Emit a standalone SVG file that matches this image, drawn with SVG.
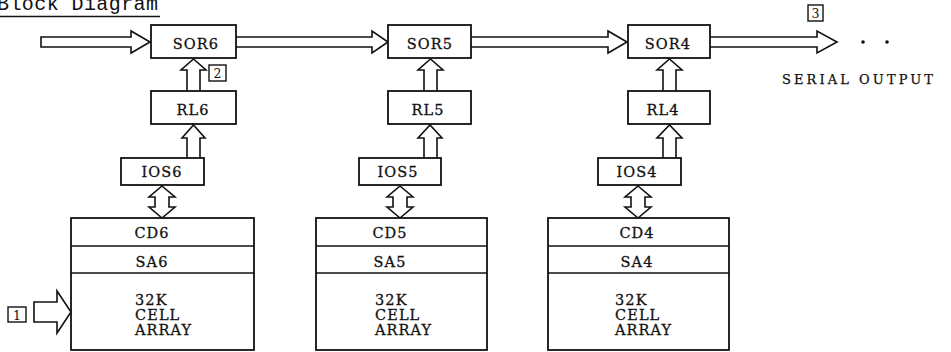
<svg xmlns="http://www.w3.org/2000/svg" width="951" height="352" viewBox="0 0 951 352">
<style>
.b{fill:#fff;stroke:#111;stroke-width:1.8}
.a{fill:#fff;stroke:#111;stroke-width:1.6;stroke-linejoin:miter}
.l{stroke:#111;stroke-width:1.6}
.t{font-family:"DejaVu Serif","Liberation Serif",serif;font-size:14.5px;fill:#111;stroke:#111;stroke-width:0.3;letter-spacing:1.1px}
.c{text-anchor:middle}
.k{font-family:"DejaVu Serif","Liberation Serif",serif;font-size:12.5px;fill:#111;text-anchor:middle}
.kb{fill:#fff;stroke:#111;stroke-width:1.4}
</style>
<rect width="951" height="352" fill="#fff"/>
<g id="title">
<text x="-3" y="10" font-family="'Liberation Mono',monospace" font-size="20" fill="#111" textLength="161" lengthAdjust="spacing">Block Diagram</text>
<line x1="0" y1="16.5" x2="160" y2="16.5" stroke="#111" stroke-width="1.5"/>
</g>
<g id="connectors">
<path class="a" d="M41,37 H131 V31 L150,42 L131,53 V47 H41 Z"/>
<path class="a" d="M236,37 H372 V31 L388,42 L372,53 V47 H236"/>
<path class="a" d="M471,37 H608 V31 L627,42 L608,53 V47 H471"/>
<path class="a" d="M710,37 H817 V31 L837,42 L817,53 V47 H710"/>
<path class="a" d="M187,91 V70 H181 L193.5,59 L206,70 H200 V91"/>
<path class="a" d="M424,91 V70 H418 L430.5,59 L443,70 H437 V91"/>
<path class="a" d="M663,91 V70 H657 L669.5,59 L682,70 H676 V91"/>
<path class="a" d="M187,158 V138 H182 L193.5,125 L205,138 H200 V158"/>
<path class="a" d="M424,158 V138 H418 L430,125 L442,138 H437 V158"/>
<path class="a" d="M663,158 V138 H657 L669.5,125 L682,138 H676 V158"/>
<path class="a" d="M162,186 L175,197 H169 V207 H175 L162,218 L149,207 H155 V197 H149 Z"/>
<path class="a" d="M400,186 L413,197 H407 V207 H413 L400,218 L387,207 H393 V197 H387 Z"/>
<path class="a" d="M638,186 L651,197 H645 V207 H651 L638,218 L625,207 H631 V197 H625 Z"/>
<path class="a" d="M34,302 H57 V291 L71,312 L57,333 V322 H34 Z"/>
<circle cx="863" cy="42" r="1.8" fill="#111"/>
<circle cx="887" cy="42" r="1.8" fill="#111"/>
</g>
<g id="SOR6"><rect class="b" x="151" y="25" width="85" height="33"/><text class="t c" x="196" y="49">SOR6</text></g>
<g id="SOR5"><rect class="b" x="388" y="25" width="83" height="33"/><text class="t c" x="430" y="49">SOR5</text></g>
<g id="SOR4"><rect class="b" x="628" y="25" width="82" height="33"/><text class="t c" x="668" y="49">SOR4</text></g>
<g id="RL6"><rect class="b" x="151" y="91" width="85" height="33"/><text class="t c" x="193" y="115">RL6</text></g>
<g id="RL5"><rect class="b" x="388" y="91" width="83" height="33"/><text class="t c" x="428" y="115">RL5</text></g>
<g id="RL4"><rect class="b" x="628" y="91" width="82" height="33"/><text class="t c" x="663" y="115">RL4</text></g>
<g id="IOS6"><rect class="b" x="121" y="158" width="83" height="27"/><text class="t c" x="162" y="177">IOS6</text></g>
<g id="IOS5"><rect class="b" x="359" y="158" width="82" height="27"/><text class="t c" x="398" y="177">IOS5</text></g>
<g id="IOS4"><rect class="b" x="598" y="158" width="83" height="27"/><text class="t c" x="637" y="177">IOS4</text></g>
<g id="array6">
<rect class="b" x="71" y="218" width="183" height="132"/>
<line class="l" x1="71" y1="246" x2="254" y2="246"/><line class="l" x1="71" y1="273" x2="254" y2="273"/>
<text class="t c" x="152" y="238">CD6</text><text class="t c" x="152" y="267">SA6</text>
<text class="t" x="135" y="305">32K</text><text class="t" x="135" y="320">CELL</text><text class="t" x="135" y="335">ARRAY</text>
</g>
<g id="array5">
<rect class="b" x="316" y="218" width="171" height="132"/>
<line class="l" x1="316" y1="246" x2="487" y2="246"/><line class="l" x1="316" y1="273" x2="487" y2="273"/>
<text class="t c" x="390" y="238">CD5</text><text class="t c" x="390" y="267">SA5</text>
<text class="t" x="375" y="305">32K</text><text class="t" x="375" y="320">CELL</text><text class="t" x="375" y="335">ARRAY</text>
</g>
<g id="array4">
<rect class="b" x="548" y="218" width="181" height="132"/>
<line class="l" x1="548" y1="246" x2="729" y2="246"/><line class="l" x1="548" y1="273" x2="729" y2="273"/>
<text class="t c" x="637" y="238">CD4</text><text class="t c" x="637" y="267">SA4</text>
<text class="t" x="615" y="305">32K</text><text class="t" x="615" y="320">CELL</text><text class="t" x="615" y="335">ARRAY</text>
</g>
<g id="label1"><rect class="kb" x="8" y="307" width="18" height="15"/><text class="k" x="17" y="319.5">1</text></g>
<g id="label2"><rect class="kb" x="209" y="65" width="17" height="16"/><text class="k" x="217.5" y="78">2</text></g>
<g id="label3"><rect class="kb" x="808" y="5" width="15" height="16"/><text class="k" x="815.5" y="18">3</text></g>
<g id="serial"><text x="782" y="84" font-family="'DejaVu Serif','Liberation Serif',serif" font-size="13" fill="#111" stroke="#111" stroke-width="0.25" textLength="151" lengthAdjust="spacing">SERIAL OUTPUT</text></g>
</svg>
